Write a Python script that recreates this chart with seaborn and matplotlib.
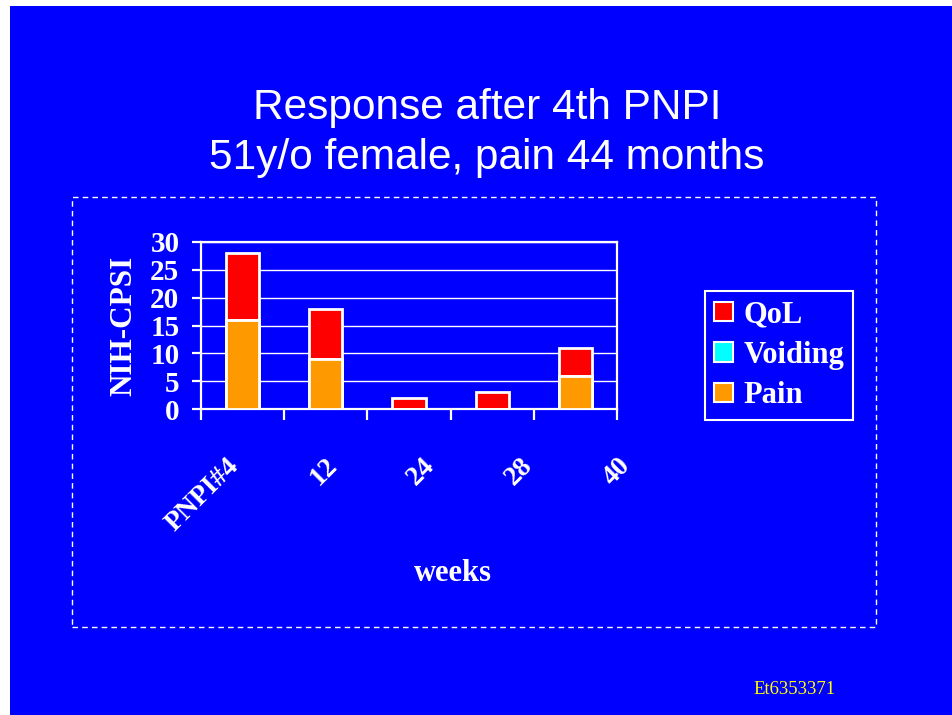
import numpy as np
import pandas as pd
import matplotlib
matplotlib.use("Agg")
import matplotlib.pyplot as plt
from matplotlib.patches import Patch, Rectangle
from matplotlib.transforms import ScaledTranslation
import seaborn as sns

# data
weeks = ["PNPI#4", "12", "24", "28", "40"]
pain = [16, 9, 0, 0, 6]
voiding = [0, 0, 0, 0, 0]
qol = [12, 9, 2, 3, 5]

BLUE = "#0000FF"
RED = "#FF0000"
CYAN = "#00FFFF"
ORANGE = "#FF9900"
SERIF = "Liberation Serif"
SANS = "Liberation Sans"

df = pd.DataFrame({"week": weeks, "pain": pain, "voiding": voiding, "qol": qol})
df["pv"] = df["pain"] + df["voiding"]
df["total"] = df["pv"] + df["qol"]

W, H = 952, 715
fig = plt.figure(figsize=(W / 100, H / 100), dpi=100, facecolor="white")
# blue slide background
fig.patches.append(Rectangle((10 / W, 0), 1 - 10 / W, 1 - 6 / H, transform=fig.transFigure,
                             facecolor=BLUE, edgecolor="none", zorder=-2))
# dashed chart frame
fig.patches.append(Rectangle((72 / W, 1 - 627 / H), (876 - 72) / W, (627 - 197) / H,
                             transform=fig.transFigure, facecolor="none", edgecolor="white",
                             linestyle=(0, (4, 3)), linewidth=1, zorder=-1))

fig.text(487 / W, 1 - 119 / H, "Response after 4th PNPI", ha="center", va="baseline",
         color="white", fontsize=30.5, family=SANS)
fig.text(487 / W, 1 - 169 / H, "51y/o female, pain 44 months", ha="center", va="baseline",
         color="white", fontsize=30.5, family=SANS)
fig.text(753 / W, 1 - 694 / H, "Et6353371", ha="left", va="baseline",
         color="#FFFF00", fontsize=13.5, family=SERIF)

ax = fig.add_axes([201 / W, 1 - 409 / H, (617 - 201) / W, (409 - 242) / H])
ax.set_zorder(3)
ax.set_facecolor(BLUE)

bar_kw = dict(order=weeks, width=0.4, saturation=1, edgecolor="white", linewidth=2, ax=ax)
sns.barplot(data=df, x="week", y="total", color=RED, zorder=3, **bar_kw)
sns.barplot(data=df, x="week", y="pv", color=CYAN, zorder=4, **bar_kw)
sns.barplot(data=df, x="week", y="pain", color=ORANGE, zorder=5, **bar_kw)

ax.set_xlim(-0.5, len(weeks) - 0.5)
ax.set_ylim(0, 30)
ax.set_yticks(range(0, 31, 5))
ax.yaxis.grid(True, color="white", linewidth=1)
ax.set_axisbelow(True)
for s in ax.spines.values():
    s.set_color("white")
    s.set_linewidth(1.6)

# tick marks between categories, labels at category centres
ax.set_xticks(np.arange(len(weeks) + 1) - 0.5)
ax.set_xticklabels([])
ax.set_xticks(np.arange(len(weeks)), minor=True)
ax.set_xticklabels(weeks, minor=True, rotation=45, ha="right", va="center",
                   rotation_mode="anchor", color="white", fontsize=20,
                   fontweight="bold", family=SERIF)
ax.tick_params(axis="x", which="major", direction="out", length=8, width=1.6, color="white")
ax.tick_params(axis="x", which="minor", length=0, pad=38)
for i, lab in enumerate(ax.get_xticklabels(minor=True)):
    lab.set_transform(lab.get_transform() + ScaledTranslation((-7 + 14.5 * i) / 100, 0, fig.dpi_scale_trans))

ax.tick_params(axis="y", direction="out", length=6.5, width=1.6, color="white", pad=9,
               labelcolor="white", labelsize=21)
for lab in ax.get_yticklabels():
    lab.set_fontweight("bold")
    lab.set_family(SERIF)

ax.set_ylabel("NIH-CPSI", color="white", fontsize=22.5, fontweight="bold", family=SERIF)
ax.yaxis.set_label_coords((138 - 201) / (617 - 201), 0.5)
ax.set_xlabel("weeks", color="white", fontsize=22, fontweight="bold", family=SERIF)
ax.xaxis.set_label_coords((453 - 201) / (617 - 201), (409 - 559) / (409 - 242))

handles = [Patch(facecolor=RED, edgecolor="white", linewidth=1.5, label="QoL"),
           Patch(facecolor=CYAN, edgecolor="white", linewidth=1.5, label="Voiding"),
           Patch(facecolor=ORANGE, edgecolor="white", linewidth=1.5, label="Pain")]
leg = fig.legend(handles=handles, loc="upper left", bbox_to_anchor=(705 / W, 1 - 291 / H),
                 frameon=True, fancybox=False, facecolor=BLUE, edgecolor="white",
                 framealpha=1, handlelength=0.6, handleheight=0.6, handletextpad=0.35,
                 labelspacing=0.38, borderpad=0.3, borderaxespad=0,
                 prop={"family": SERIF, "weight": "bold", "size": 22})
leg.set_zorder(6)
leg.get_frame().set_linewidth(1.5)
for t in leg.get_texts():
    t.set_color("white")

fig.savefig("out.png", dpi=100, facecolor=fig.get_facecolor())
